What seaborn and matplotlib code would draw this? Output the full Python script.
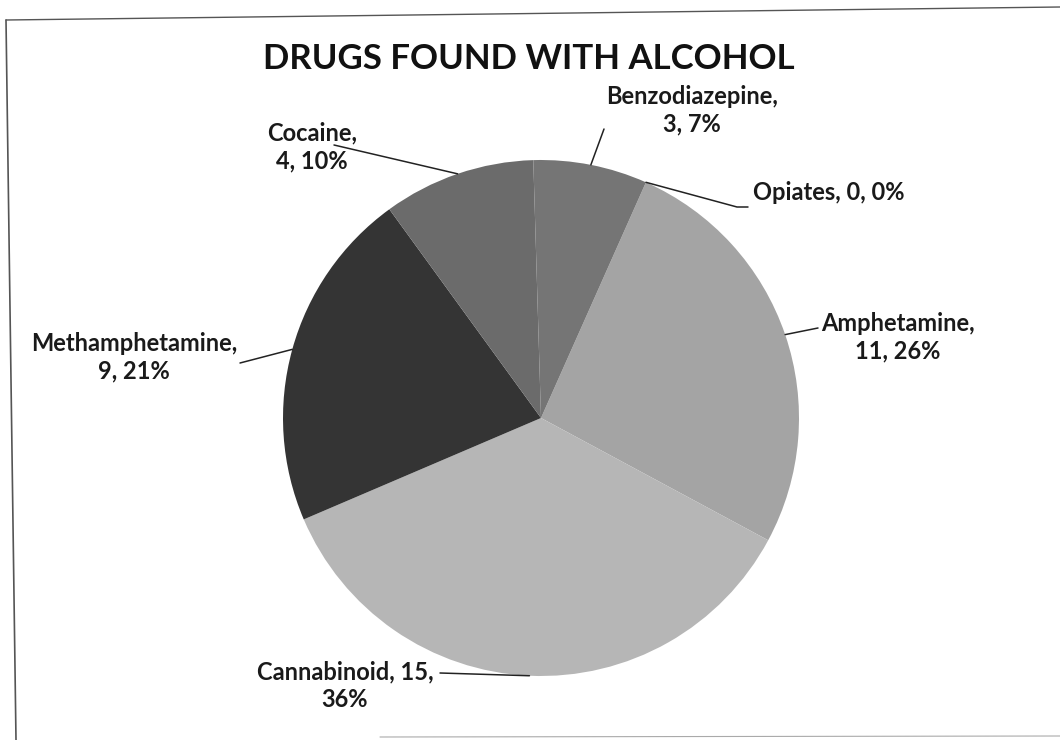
import matplotlib
matplotlib.use("Agg")
import matplotlib.pyplot as plt
from matplotlib.lines import Line2D
import numpy as np
import seaborn as sns

# ---- data ----
categories = ["Opiates", "Amphetamine", "Cannabinoid", "Methamphetamine", "Cocaine", "Benzodiazepine"]
counts = [0, 11, 15, 9, 4, 3]
title = "DRUGS FOUND WITH ALCOHOL"

# ---- style ----
sns.set_theme(style="white")
plt.rcParams['font.family'] = ['Lato', 'DejaVu Sans']

W, H = 1060, 740
fig = plt.figure(figsize=(W / 100, H / 100), dpi=100)
ax = fig.add_axes([0, 0, 1, 1])

def Y(y):  # image-pixel y (top origin) -> data y
    return H - y

cx, cy, r = 541, Y(418), 258
colors = ["#ffffff", "#a4a4a4", "#b6b6b6", "#343434", "#6b6b6b", "#757575"]
wedges, _ = ax.pie(counts, colors=colors, startangle=66, counterclock=False,
                   center=(cx, cy), radius=r, frame=True,
                   wedgeprops=dict(linewidth=0))
ax.set_xlim(0, W)
ax.set_ylim(0, H)
ax.set_aspect('equal')
ax.axis('off')

total = sum(counts)
pcts = [int(round(100 * c / total)) for c in counts]
texts = {
    "Opiates": f"Opiates, {counts[0]}, {pcts[0]}%",
    "Amphetamine": f"Amphetamine,\n{counts[1]}, {pcts[1]}%",
    "Cannabinoid": f"Cannabinoid, {counts[2]},\n{pcts[2]}%",
    "Methamphetamine": f"Methamphetamine,\n{counts[3]}, {pcts[3]}%",
    "Cocaine": f"Cocaine,\n{counts[4]}, {pcts[4]}%",
    "Benzodiazepine": f"Benzodiazepine,\n{counts[5]}, {pcts[5]}%",
}

# layout: label position (image px), horizontal alignment, leader-line anchors
layout = {
    "Opiates": ((753, 192), "left", [(737, 207), (748, 207)]),
    "Amphetamine": ((898, 337), "center", [(818, 328)]),
    "Cannabinoid": ((345, 686), "center", [(440, 673)]),
    "Methamphetamine": ((134, 357), "center", [(240, 363)]),
    "Cocaine": ((312, 147), "center", [(334, 145)]),
    "Benzodiazepine": ((692, 110), "center", [(604, 129)]),
}

for w, cat in zip(wedges, categories):
    mid = np.deg2rad((w.theta1 + w.theta2) / 2)
    ex, ey = cx + r * np.cos(mid), cy + r * np.sin(mid)
    (lx, ly), ha, anchors = layout[cat]
    xs = [ex] + [a[0] for a in anchors]
    ys = [ey] + [Y(a[1]) for a in anchors]
    ax.plot(xs, ys, color="#222222", lw=1.1, solid_capstyle="round")
    ax.text(lx, Y(ly), texts[cat], ha=ha, va="center", fontsize=17,
            fontweight="bold", color="#1a1a1a", linespacing=1.25,
            multialignment="center")

ax.text(529, Y(59), title, ha="center", va="center", fontsize=25,
        fontweight="bold", color="#111111")

# scanned border of the chart area
fig.add_artist(Line2D([6 / W, 1.0], [1 - 20 / H, 1 - 7 / H], color="#555555", lw=1.0))
fig.add_artist(Line2D([6 / W, 16 / W], [1 - 20 / H, 0.0], color="#555555", lw=1.2))
fig.add_artist(Line2D([380 / W, 1.0], [1 - 737 / H, 1 - 736 / H], color="#aaaaaa", lw=0.8))

fig.savefig("out.png", dpi=100, facecolor="white")
